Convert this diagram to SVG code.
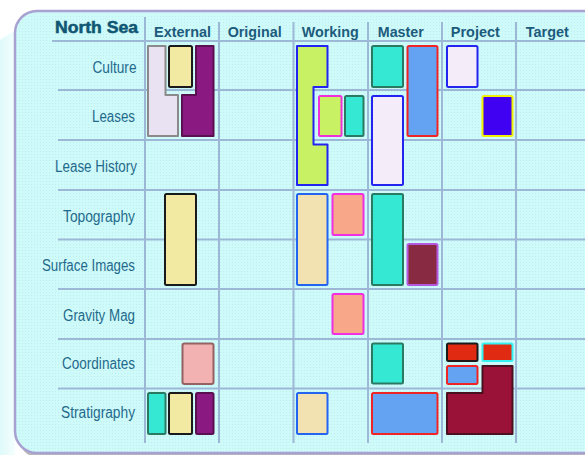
<svg xmlns="http://www.w3.org/2000/svg" width="585" height="455" viewBox="0 0 585 455">
<defs>
<pattern id="dots" width="3" height="3" patternUnits="userSpaceOnUse">
<rect width="3" height="3" fill="#cffafa"/>
<rect x="1" y="1" width="1" height="1" fill="#bfeef0"/>
</pattern>
<linearGradient id="glow" x1="0" y1="0" x2="1" y2="0">
<stop offset="0" stop-color="#dffafa"/>
<stop offset="1" stop-color="#f4fefe"/>
</linearGradient>
<style>
.grid line{stroke:#9cb8d6;stroke-width:2}
.hdr{font-family:"Liberation Sans",Arial,sans-serif;font-weight:bold;font-size:15.5px;fill:#1c5b7c;text-anchor:middle}
.lbl{font-family:"Liberation Sans",Arial,sans-serif;font-size:16px;fill:#1f6a8c;text-anchor:end}
.cell{stroke-width:2;stroke-linejoin:round}
.lav{fill:#e8e2f2;stroke:#8a8a8a}
.yel{fill:#f2e9a2;stroke:#1a1a1a}
.pur{fill:#8a1a82;stroke:#5a1050}
.grn{fill:#c8f264;stroke:#2424f0}
.grnm{fill:#c8f264;stroke:#f030d8}
.teal{fill:#34e8d4;stroke:#2a7a62}
.blu{fill:#64a2f2;stroke:#f02424}
.lavb{fill:#f4ecf8;stroke:#2424f0}
.ind{fill:#4000f2;stroke:#f0f000}
.bei{fill:#f2e2b2;stroke:#2464f0}
.sal{fill:#f8a888;stroke:#f030e0}
.mar{fill:#882a42;stroke:#b458e0}
.pnk{fill:#f2b2b2;stroke:#946262}
.redk{fill:#e02a12;stroke:#1a1a1a}
.redc{fill:#e02a12;stroke:#34f0f0}
.dmar{fill:#9a1238;stroke:#4a1020}
</style>
</defs>
<rect width="585" height="455" fill="#ffffff"/>
<path d="M0,40 L15,30 L15,455 L0,455 Z" fill="url(#glow)"/>
<rect x="18" y="14" width="600" height="444" rx="22" fill="#8a8a8a" opacity="0.6"/>
<rect id="panel" x="15" y="11" width="600" height="442" rx="22" fill="url(#dots)" stroke="#a8a2d2" stroke-width="2.5"/>
<g id="connectors" class="grid">
<line x1="52" y1="41" x2="585" y2="41"/>
<line x1="58" y1="90" x2="585" y2="90"/>
<line x1="58" y1="140" x2="585" y2="140"/>
<line x1="58" y1="190" x2="585" y2="190"/>
<line x1="58" y1="239.5" x2="585" y2="239.5"/>
<line x1="58" y1="289" x2="585" y2="289"/>
<line x1="58" y1="339" x2="585" y2="339"/>
<line x1="58" y1="388.5" x2="585" y2="388.5"/>
<line x1="145" y1="17" x2="145" y2="443"/>
<line x1="219" y1="22" x2="219" y2="443"/>
<line x1="293.5" y1="22" x2="293.5" y2="443"/>
<line x1="368" y1="22" x2="368" y2="443"/>
<line x1="442" y1="22" x2="442" y2="443"/>
<line x1="516" y1="22" x2="516" y2="443"/>
</g>
<g id="headers">
<text x="96.5" y="33" font-family="'Liberation Sans',Arial,sans-serif" font-weight="900" font-size="16" fill="#0f5673" stroke="#0f5673" stroke-width="0.5" textLength="83" lengthAdjust="spacingAndGlyphs" text-anchor="middle">North Sea</text>
<text class="hdr" x="182.5" y="37" textLength="57" lengthAdjust="spacingAndGlyphs">External</text>
<text class="hdr" x="254.7" y="37" textLength="54" lengthAdjust="spacingAndGlyphs">Original</text>
<text class="hdr" x="330.3" y="37" textLength="57" lengthAdjust="spacingAndGlyphs">Working</text>
<text class="hdr" x="400.8" y="37" textLength="46" lengthAdjust="spacingAndGlyphs">Master</text>
<text class="hdr" x="475.3" y="37" textLength="49" lengthAdjust="spacingAndGlyphs">Project</text>
<text class="hdr" x="547.3" y="37" textLength="43" lengthAdjust="spacingAndGlyphs">Target</text>
</g>
<g id="rowlabels">
<text class="lbl" x="136.5" y="72.5" textLength="44" lengthAdjust="spacingAndGlyphs">Culture</text>
<text class="lbl" x="135" y="122" textLength="43" lengthAdjust="spacingAndGlyphs">Leases</text>
<text class="lbl" x="137" y="171.5" textLength="82" lengthAdjust="spacingAndGlyphs">Lease History</text>
<text class="lbl" x="135" y="221.5" textLength="72" lengthAdjust="spacingAndGlyphs">Topography</text>
<text class="lbl" x="135" y="271" textLength="93" lengthAdjust="spacingAndGlyphs">Surface Images</text>
<text class="lbl" x="135" y="321" textLength="72" lengthAdjust="spacingAndGlyphs">Gravity Mag</text>
<text class="lbl" x="135" y="368.5" textLength="73" lengthAdjust="spacingAndGlyphs">Coordinates</text>
<text class="lbl" x="135" y="418" textLength="74" lengthAdjust="spacingAndGlyphs">Stratigraphy</text>
</g>
<g id="ext-culture-leases-lav"><path class="cell lav" d="M148,46 H165.5 V95 H178 V136 H148 Z"/></g>
<g id="ext-culture-yel"><rect class="cell yel" x="169" y="46" width="23" height="41" rx="1.5"/></g>
<g id="ext-culture-leases-pur"><path class="cell pur" d="M196,46 H213.5 V136 H182 V95 H196 Z"/></g>
<g id="ext-topo-yel"><rect class="cell yel" x="165" y="194" width="31" height="91" rx="1.5"/></g>
<g id="ext-coord-pnk"><rect class="cell pnk" x="182.5" y="343.5" width="31" height="40.5" rx="2"/></g>
<g id="ext-strat-teal"><rect class="cell teal" x="148" y="393" width="17.5" height="41" rx="1.5"/></g>
<g id="ext-strat-yel"><rect class="cell yel" x="169" y="393" width="23" height="41" rx="1.5"/></g>
<g id="ext-strat-pur"><rect class="cell pur" x="196" y="393" width="17.5" height="41" rx="1.5"/></g>
<g id="work-culture-grn"><path class="cell grn" d="M297,46 H327.5 V87 H313.5 V144.5 H327.5 V185 H297 Z"/></g>
<g id="work-leases-grnm"><rect class="cell grnm" x="319" y="96" width="22.5" height="40" rx="1.5"/></g>
<g id="work-leases-teal"><rect class="cell teal" x="345" y="96" width="18.5" height="40" rx="1.5"/></g>
<g id="work-topo-bei"><rect class="cell bei" x="297" y="194" width="30.5" height="91" rx="1.5"/></g>
<g id="work-topo-sal"><rect class="cell sal" x="332.5" y="194" width="31" height="41" rx="1.5"/></g>
<g id="work-grav-sal"><rect class="cell sal" x="332.5" y="294" width="31" height="40" rx="1.5"/></g>
<g id="work-strat-bei"><rect class="cell bei" x="297" y="393" width="30.5" height="41" rx="1.5"/></g>
<g id="mast-culture-teal"><rect class="cell teal" x="372" y="46" width="31" height="41" rx="1.5"/></g>
<g id="mast-culture-blu"><rect class="cell blu" x="407.5" y="46" width="30" height="90" rx="1.5"/></g>
<g id="mast-leases-lavb"><rect class="cell lavb" x="372" y="96" width="31" height="89" rx="1.5"/></g>
<g id="mast-topo-teal"><rect class="cell teal" x="372" y="194" width="31" height="91" rx="1.5"/></g>
<g id="mast-surf-mar"><rect class="cell mar" x="407.5" y="244" width="30" height="41" rx="1.5"/></g>
<g id="mast-coord-teal"><rect class="cell teal" x="372" y="343.5" width="31" height="40" rx="1.5"/></g>
<g id="mast-strat-blu"><rect class="cell blu" x="372" y="393" width="65.5" height="41" rx="1.5"/></g>
<g id="proj-culture-lavb"><rect class="cell lavb" x="447" y="46" width="30.5" height="41" rx="1.5"/></g>
<g id="proj-leases-ind"><rect class="cell ind" x="482.5" y="96" width="30" height="40" rx="1.5"/></g>
<g id="proj-coord-redk"><rect class="cell redk" x="447" y="343.5" width="30.5" height="17.5" rx="1.5"/></g>
<g id="proj-coord-redc"><rect class="cell redc" x="482.5" y="343.5" width="30" height="17.5" rx="1.5"/></g>
<g id="proj-coord-blu"><rect class="cell blu" x="447" y="366" width="30.5" height="18" rx="1.5"/></g>
<g id="proj-strat-dmar"><path class="cell dmar" d="M482.5,366 H512.5 V434 H447 V393 H482.5 Z"/></g>
</svg>
